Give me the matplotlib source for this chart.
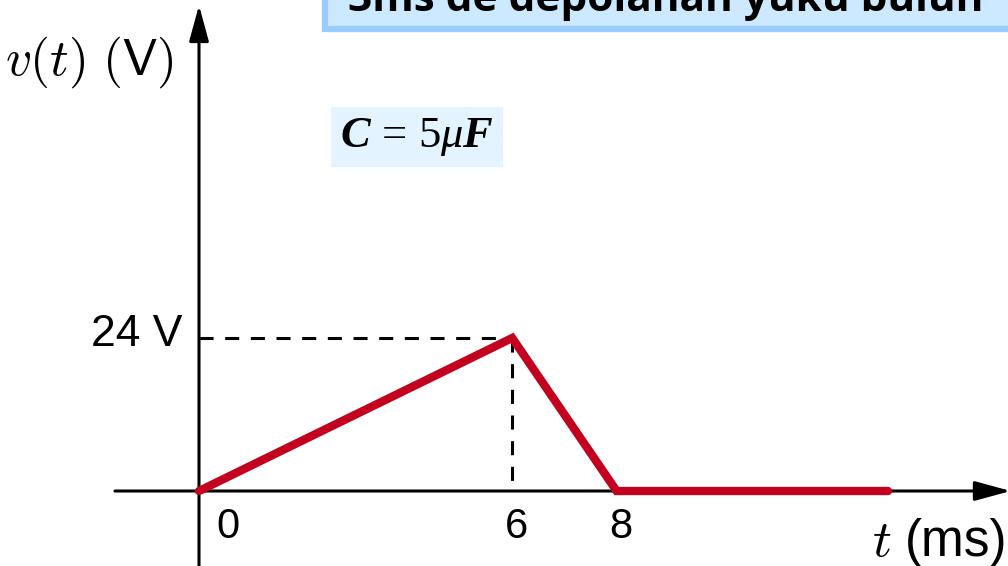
import matplotlib
matplotlib.use("Agg")
import matplotlib.pyplot as plt
from matplotlib.patches import Rectangle

# waveform corners (ms, V)
t_ms = [0, 6, 8, 13.2]
v_volts = [0, 24, 0, 0]
tick_ms = [0, 6, 8]
tick_labels = ["0", "6", "8"]
peak_label = "24 V"
title_text = "3ms de depolanan yükü bulun"
cap_text = r"$\mathbf{C}\,=\,5\mu\mathbf{F}$"

plt.rcParams["font.family"] = ["Liberation Sans", "DejaVu Sans"]
plt.rcParams["mathtext.fontset"] = "custom"
plt.rcParams["mathtext.rm"] = "Liberation Serif"
plt.rcParams["mathtext.it"] = "Liberation Serif:italic"
plt.rcParams["mathtext.bf"] = "Liberation Serif:italic:bold"

W, H = 1008, 566
fig = plt.figure(figsize=(W / 100, H / 100), dpi=100)
ax = fig.add_axes([0, 0, 1, 1])

# pixel scale of the drawing: origin and units per ms / per volt
x0, px_ms = 199, 52.2
y0, px_v = 491, 6.375
ax.set_xlim(-x0 / px_ms, (W - x0) / px_ms)
ax.set_ylim((y0 - H) / px_v, y0 / px_v)
ax.axis("off")

# axes with arrows
arrow = dict(arrowstyle="-|>,head_length=2.2,head_width=0.6", lw=2.2,
             color="black", mutation_scale=10, shrinkA=0, shrinkB=0)
ax.annotate("", xy=(15.55, 0), xytext=(-1.61, 0), arrowprops=arrow,
            annotation_clip=False)
ax.annotate("", xy=(0, 76.2), xytext=(0, -14), arrowprops=arrow,
            annotation_clip=False)

# dashed guides to the peak
peak_t = t_ms[v_volts.index(max(v_volts))]
peak_v = max(v_volts)
ax.plot([0, peak_t], [peak_v, peak_v], color="black", lw=2.2,
        dashes=(4.6, 3.8))
ax.plot([peak_t, peak_t], [peak_v, 0], color="black", lw=2.2,
        dashes=(4.6, 3.8))

# the voltage waveform
ax.plot(t_ms, v_volts, color="#c3001d", lw=6, solid_joinstyle="miter",
        solid_capstyle="round", zorder=5)

# labels
ax.text(-0.31, peak_v + 0.6, peak_label, fontsize=32, ha="right", va="center")
for tk, lab in zip(tick_ms, tick_labels):
    if tk == 0:
        ax.text(tk + 0.33, -5.7, lab, fontsize=30, ha="left", va="center")
    else:
        ax.text(tk + 0.09, -5.7, lab, fontsize=30, ha="center", va="center")

ax.text(-3.72, 67.3, r"$v(t)$ $(\mathsf{V})$", fontsize=37, ha="left",
        va="center", math_fontfamily="cm")
ax.text(12.9, -10.2, r"$t$", fontsize=38, ha="left", va="baseline",
        math_fontfamily="cm")
ax.text(15.48, -10.2, "(ms)", fontsize=37, ha="right", va="baseline")

ax.text(4.18, 55.5, cap_text, fontsize=32, ha="center", va="center",
        bbox=dict(boxstyle="square,pad=0.2", fc="#e3f3ff", ec="none"))

# header banner
fig.add_artist(Rectangle((325 / W, 1 - 28.5 / H), 1.0, 0.5,
                         transform=fig.transFigure, fc="#cce9ff",
                         ec="#99ccff", lw=4.5))
fig.text(348 / W, 1 - 11 / H, title_text, fontsize=30.5, fontweight="bold",
         family="Open Sans", ha="left", va="baseline")

fig.savefig("out.png", dpi=100)
